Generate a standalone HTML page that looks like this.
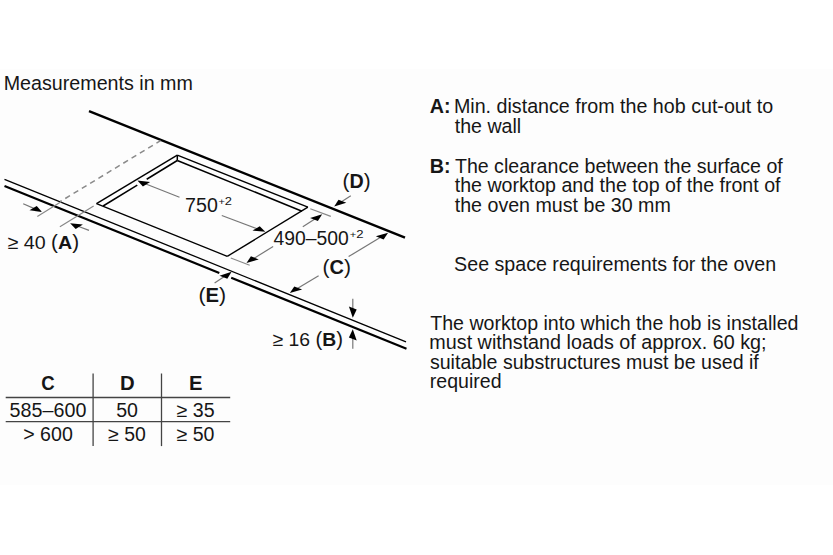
<!DOCTYPE html>
<html><head><meta charset="utf-8"><style>
html,body{margin:0;padding:0;background:#fff;width:833px;height:555px;overflow:hidden}
svg{display:block;font-family:"Liberation Sans",sans-serif}
</style></head><body>
<svg width="833" height="555" viewBox="0 0 833 555">
<rect width="833" height="555" fill="#fff"/>
<rect y="69" width="833" height="416" fill="#fdfdfd"/>
<line x1="89.00" y1="111.20" x2="405.00" y2="237.60" stroke="#000" stroke-width="2.4" />
<line x1="4.50" y1="179.30" x2="406.00" y2="341.80" stroke="#000" stroke-width="1.3" />
<line x1="4.50" y1="186.00" x2="219.30" y2="272.93" stroke="#000" stroke-width="2.2" />
<line x1="231.20" y1="277.75" x2="406.50" y2="348.69" stroke="#000" stroke-width="2.2" />
<line x1="96.50" y1="203.60" x2="177.30" y2="155.20" stroke="#000" stroke-width="1.4" />
<line x1="177.30" y1="155.20" x2="307.90" y2="207.20" stroke="#000" stroke-width="1.4" />
<line x1="307.90" y1="207.20" x2="227.30" y2="256.30" stroke="#000" stroke-width="1.4" />
<line x1="227.30" y1="256.30" x2="96.50" y2="203.60" stroke="#000" stroke-width="1.4" />
<line x1="103.10" y1="206.00" x2="137.30" y2="185.03" stroke="#000" stroke-width="1.5" />
<line x1="146.70" y1="179.26" x2="177.30" y2="160.50" stroke="#000" stroke-width="1.5" />
<line x1="177.30" y1="160.50" x2="302.00" y2="211.20" stroke="#000" stroke-width="1.5" />
<line x1="177.30" y1="155.20" x2="177.30" y2="160.50" stroke="#000" stroke-width="1.5" />
<line x1="60.30" y1="201.50" x2="160.60" y2="140.60" stroke="#8a8a8a" stroke-width="1.5" stroke-dasharray="5.5 4.2" stroke-dashoffset="3.9"/>
<line x1="37.30" y1="216.60" x2="61.50" y2="201.60" stroke="#888" stroke-width="1.2" />
<line x1="59.90" y1="226.80" x2="93.60" y2="205.90" stroke="#888" stroke-width="1.2" />
<line x1="23.20" y1="203.80" x2="34.94" y2="208.90" stroke="#777" stroke-width="1.2" />
<polygon points="42.10,212.00 36.70,205.93 29.52,210.27" fill="#000"/>
<line x1="89.00" y1="230.40" x2="77.40" y2="226.04" stroke="#777" stroke-width="1.2" />
<polygon points="70.10,223.30 82.87,224.57 75.68,228.92" fill="#000"/>
<line x1="179.50" y1="197.30" x2="144.65" y2="183.48" stroke="#777" stroke-width="1.2" />
<polygon points="137.40,180.60 150.10,182.04 142.92,186.39" fill="#000"/>
<line x1="221.80" y1="215.50" x2="258.00" y2="229.06" stroke="#777" stroke-width="1.2" />
<polygon points="265.30,231.80 259.72,226.19 252.53,230.54" fill="#000"/>
<line x1="310.30" y1="208.80" x2="330.80" y2="216.40" stroke="#888" stroke-width="1.2" />
<line x1="230.80" y1="258.00" x2="249.70" y2="265.20" stroke="#888" stroke-width="1.2" />
<line x1="302.80" y1="226.70" x2="315.64" y2="218.42" stroke="#777" stroke-width="1.2" />
<polygon points="322.20,214.20 317.86,221.07 310.06,217.95" fill="#000"/>
<line x1="273.10" y1="246.50" x2="253.13" y2="258.89" stroke="#777" stroke-width="1.2" />
<polygon points="246.50,263.00 258.73,259.39 250.93,256.27" fill="#000"/>
<line x1="350.80" y1="195.80" x2="340.74" y2="202.35" stroke="#777" stroke-width="1.2" />
<polygon points="334.20,206.60 346.31,202.82 338.51,199.70" fill="#000"/>
<line x1="348.60" y1="256.60" x2="381.42" y2="236.83" stroke="#777" stroke-width="1.2" />
<polygon points="388.10,232.80 383.61,239.42 375.81,236.30" fill="#000"/>
<line x1="318.60" y1="275.80" x2="296.50" y2="289.00" stroke="#777" stroke-width="1.2" />
<polygon points="289.80,293.00 302.11,289.53 294.31,286.42" fill="#000"/>
<line x1="214.60" y1="283.00" x2="225.09" y2="276.09" stroke="#777" stroke-width="1.2" />
<polygon points="231.60,271.80 227.32,278.75 219.52,275.63" fill="#000"/>
<line x1="352.80" y1="298.80" x2="352.80" y2="310.00" stroke="#777" stroke-width="1.2" />
<polygon points="352.80,317.80 356.70,309.56 348.90,306.44" fill="#000"/>
<line x1="352.80" y1="348.80" x2="352.80" y2="337.00" stroke="#777" stroke-width="1.2" />
<polygon points="352.80,329.20 356.70,340.56 348.90,337.44" fill="#000"/>
<line x1="5.70" y1="397.50" x2="230.20" y2="397.50" stroke="#444" stroke-width="1.3" />
<line x1="5.70" y1="421.60" x2="230.20" y2="421.60" stroke="#444" stroke-width="1.3" />
<line x1="93.10" y1="373.50" x2="93.10" y2="446.10" stroke="#444" stroke-width="1.3" />
<line x1="161.50" y1="373.50" x2="161.50" y2="446.10" stroke="#444" stroke-width="1.3" />
<text transform="translate(3.73,89.50) scale(1.0094,1)" font-size="19.5" fill="#161616">Measurements in mm</text>
<text transform="translate(342.52,188.40) scale(1.0202,1)" font-size="19.3" fill="#161616"><tspan font-size="1.05em">(</tspan><tspan font-weight="bold">D</tspan><tspan font-size="1.05em">)</tspan></text>
<text transform="translate(185.12,211.90) scale(1.0062,1)" font-size="19.5" fill="#161616">750</text>
<text transform="translate(218.38,205.20) scale(1.1742,1)" font-size="11" fill="#161616"><tspan font-size="0.85em">+</tspan>2</text>
<text transform="translate(273.61,245.00) scale(0.9922,1)" font-size="19.5" fill="#161616">490–500</text>
<text transform="translate(349.68,238.40) scale(1.1932,1)" font-size="11" fill="#161616"><tspan font-size="0.85em">+</tspan>2</text>
<text transform="translate(322.50,274.30) scale(1.0363,1)" font-size="19.3" fill="#161616"><tspan font-size="1.05em">(</tspan><tspan font-weight="bold">C</tspan><tspan font-size="1.05em">)</tspan></text>
<text transform="translate(198.38,302.10) scale(1.0489,1)" font-size="19.3" fill="#161616"><tspan font-size="1.05em">(</tspan><tspan font-weight="bold">E</tspan><tspan font-size="1.05em">)</tspan></text>
<text transform="translate(7.51,249.40) scale(1.0348,1)" font-size="19" fill="#161616">≥ 40 <tspan font-size="1.05em">(</tspan><tspan font-weight="bold">A</tspan><tspan font-size="1.05em">)</tspan></text>
<text transform="translate(272.62,345.80) scale(1.0185,1)" font-size="19" fill="#161616">≥ 16 <tspan font-size="1.05em">(</tspan><tspan font-weight="bold">B</tspan><tspan font-size="1.05em">)</tspan></text>
<text transform="translate(41.35,390.40) scale(0.9552,1)" font-size="19.5" fill="#161616"><tspan font-weight="bold">C</tspan></text>
<text transform="translate(119.88,390.40) scale(1.0423,1)" font-size="19.5" fill="#161616"><tspan font-weight="bold">D</tspan></text>
<text transform="translate(189.09,390.40) scale(1.0347,1)" font-size="19.5" fill="#161616"><tspan font-weight="bold">E</tspan></text>
<text transform="translate(9.61,416.70) scale(1.0122,1)" font-size="19.5" fill="#161616">585–600</text>
<text transform="translate(116.22,416.70) scale(1.0058,1)" font-size="19.5" fill="#161616">50</text>
<text transform="translate(176.51,416.70) scale(1.0064,1)" font-size="19.5" fill="#161616">≥ 35</text>
<text transform="translate(23.22,441.10) scale(1.0068,1)" font-size="19.5" fill="#161616">&gt; 600</text>
<text transform="translate(108.12,441.10) scale(0.9983,1)" font-size="19.5" fill="#161616">≥ 50</text>
<text transform="translate(176.51,441.10) scale(1.0038,1)" font-size="19.5" fill="#161616">≥ 50</text>
<text transform="translate(453.93,113.30) scale(1.0091,1)" font-size="19.5" fill="#161616">Min. distance from the hob cut-out to</text>
<text transform="translate(429.81,113.30) scale(1.0091,1)" font-size="19.5" fill="#161616"><tspan font-weight="bold">A:</tspan></text>
<text transform="translate(454.71,132.70) scale(1.0055,1)" font-size="19.5" fill="#161616">the wall</text>
<text transform="translate(429.82,172.50) scale(1.0091,1)" font-size="19.5" fill="#161616"><tspan font-weight="bold">B:</tspan></text>
<text transform="translate(454.91,172.50) scale(1.0051,1)" font-size="19.5" fill="#161616">The clearance between the surface of</text>
<text transform="translate(454.71,192.00) scale(1.0053,1)" font-size="19.5" fill="#161616">the worktop and the top of the front of</text>
<text transform="translate(454.71,211.60) scale(1.0073,1)" font-size="19.5" fill="#161616">the oven must be 30 mm</text>
<text transform="translate(454.12,270.60) scale(1.0077,1)" font-size="19.5" fill="#161616">See space requirements for the oven</text>
<text transform="translate(430.21,329.70) scale(1.0056,1)" font-size="19.5" fill="#161616">The worktop into which the hob is installed</text>
<text transform="translate(429.31,349.10) scale(1.0138,1)" font-size="19.5" fill="#161616">must withstand loads of approx. 60 kg;</text>
<text transform="translate(429.91,368.60) scale(1.0048,1)" font-size="19.5" fill="#161616">suitable substructures must be used if</text>
<text transform="translate(429.83,388.20) scale(1.0025,1)" font-size="19.5" fill="#161616">required</text>
</svg>
</body></html>
